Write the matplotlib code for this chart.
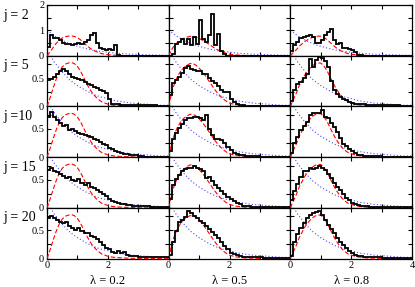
import numpy as np
import matplotlib
matplotlib.use("Agg")
import matplotlib.pyplot as plt

plt.rcParams['font.family'] = ['Liberation Serif', 'DejaVu Serif']

# columns / rows
lambdas = ['0.2', '0.5', '0.8']
j_labels = ['j = 2', 'j = 5', 'j =10', 'j = 15', 'j = 20']

# histogram bin edges (spacing s), width 0.1
bin_edges = np.round(np.arange(0, 4.001, 0.1), 2)

# histograms, one list per panel (40 bins, s = 0..4)
h_j2_l02 = [0.35, 0.8, 0.7, 0.68, 0.6, 0.52, 0.48, 0.45, 0.42, 0.45, 0.5, 0.45, 0.55, 0.62, 0.8, 0.88, 0.5, 0.3, 0.25, 0.22,
            0.25, 0.22, 0.42, 0.02, 0, 0, 0, 0, 0, 0, 0, 0, 0, 0, 0, 0, 0, 0, 0, 0]
h_j2_l05 = [0, 0.05, 0.45, 0.55, 0.64, 0.45, 0.67, 0.42, 0.74, 0.45, 1.4, 0.67, 0.55, 0.8, 1.64, 0.42, 0.84, 0.2, 0.05, 0,
            0, 0, 0, 0, 0, 0, 0, 0, 0, 0, 0, 0, 0, 0, 0, 0, 0, 0, 0, 0]
h_j2_l08 = [0.2, 0.42, 0.55, 0.68, 0.72, 0.78, 0.8, 0.74, 0.5, 0.5, 0.6, 0.8, 0.93, 1.06, 0.6, 0.45, 0.5, 0.32, 0.3, 0.28,
            0.22, 0.15, 0.04, 0.02, 0, 0, 0, 0, 0, 0, 0, 0, 0, 0, 0, 0, 0, 0, 0, 0]

h_j5_l02 = [0.47, 0.48, 0.52, 0.57, 0.62, 0.66, 0.62, 0.57, 0.53, 0.51, 0.49, 0.46, 0.43, 0.4, 0.38, 0.35, 0.33, 0.3, 0.28, 0.24,
            0.14, 0.05, 0.04, 0.04, 0.03, 0.03, 0.02, 0.02, 0.02, 0.02, 0.02, 0.02, 0.02, 0.02, 0.02, 0.02, 0.01, 0.01, 0.01, 0.01]
h_j5_l05 = [0.2, 0.42, 0.47, 0.53, 0.6, 0.69, 0.71, 0.66, 0.64, 0.62, 0.63, 0.58, 0.57, 0.5, 0.45, 0.42, 0.36, 0.3, 0.26, 0.26,
            0.14, 0.07, 0.04, 0.03, 0.02, 0.01, 0.01, 0.01, 0.01, 0.01, 0.01, 0.01, 0.01, 0.01, 0.01, 0.01, 0.01, 0.01, 0.01, 0.01]
h_j5_l08 = [0.1, 0.3, 0.4, 0.43, 0.5, 0.57, 0.84, 0.7, 0.82, 0.88, 0.86, 0.8, 0.7, 0.45, 0.3, 0.22, 0.17, 0.13, 0.11, 0.07,
            0.06, 0.05, 0.04, 0.04, 0.04, 0.03, 0.03, 0.03, 0.02, 0.02, 0.02, 0.02, 0.02, 0.02, 0.02, 0.02, 0.01, 0.01, 0.01, 0.01]

h_j10_l02 = [0.72, 0.8, 0.72, 0.66, 0.6, 0.56, 0.57, 0.48, 0.5, 0.47, 0.43, 0.41, 0.39, 0.37, 0.35, 0.33, 0.3, 0.27, 0.24, 0.21,
             0.17, 0.14, 0.11, 0.09, 0.07, 0.06, 0.05, 0.04, 0.03, 0.03, 0.02, 0.02, 0.01, 0.01, 0.01, 0.01, 0.01, 0.01, 0.01, 0.01]
h_j10_l05 = [0.1, 0.32, 0.42, 0.52, 0.59, 0.66, 0.69, 0.7, 0.71, 0.72, 0.7, 0.66, 0.74, 0.5, 0.39, 0.33, 0.32, 0.3, 0.25, 0.18,
             0.13, 0.08, 0.05, 0.04, 0.03, 0.02, 0.02, 0.02, 0.02, 0.02, 0.01, 0.01, 0.01, 0.01, 0.01, 0.01, 0.01, 0.01, 0.01, 0.01]
h_j10_l08 = [0.08, 0.25, 0.36, 0.48, 0.56, 0.63, 0.74, 0.78, 0.78, 0.78, 0.84, 0.72, 0.7, 0.6, 0.54, 0.45, 0.34, 0.24, 0.19, 0.15,
             0.11, 0.07, 0.04, 0.03, 0.02, 0.02, 0.02, 0.02, 0.02, 0.02, 0.01, 0.01, 0.01, 0.01, 0.01, 0.01, 0.01, 0.01, 0.01, 0.01]

h_j15_l02 = [0.67, 0.71, 0.65, 0.63, 0.6, 0.57, 0.53, 0.55, 0.5, 0.47, 0.51, 0.44, 0.41, 0.44, 0.37, 0.35, 0.31, 0.28, 0.25, 0.21,
             0.16, 0.12, 0.1, 0.08, 0.07, 0.06, 0.05, 0.05, 0.04, 0.04, 0.03, 0.03, 0.03, 0.03, 0.02, 0.02, 0.02, 0.02, 0.02, 0.02]
h_j15_l05 = [0.15, 0.4, 0.52, 0.59, 0.65, 0.69, 0.7, 0.71, 0.74, 0.71, 0.68, 0.66, 0.53, 0.55, 0.47, 0.41, 0.35, 0.29, 0.24, 0.2,
             0.15, 0.12, 0.08, 0.06, 0.04, 0.03, 0.03, 0.02, 0.02, 0.02, 0.01, 0.01, 0.01, 0.01, 0.01, 0.01, 0.01, 0.01, 0.01, 0.01]
h_j15_l08 = [0.14, 0.3, 0.42, 0.55, 0.66, 0.66, 0.71, 0.68, 0.71, 0.74, 0.71, 0.67, 0.6, 0.53, 0.44, 0.37, 0.32, 0.25, 0.18, 0.13,
             0.09, 0.07, 0.05, 0.04, 0.03, 0.03, 0.02, 0.02, 0.02, 0.01, 0.01, 0.01, 0.01, 0.01, 0.01, 0.01, 0.01, 0.01, 0.01, 0.01]

h_j20_l02 = [0.72, 0.75, 0.72, 0.68, 0.65, 0.63, 0.64, 0.58, 0.55, 0.51, 0.54, 0.48, 0.45, 0.46, 0.4, 0.38, 0.34, 0.3, 0.24, 0.18,
             0.16, 0.12, 0.1, 0.13, 0.09, 0.11, 0.06, 0.05, 0.04, 0.04, 0.03, 0.03, 0.02, 0.02, 0.02, 0.02, 0.02, 0.02, 0.02, 0.02]
h_j20_l05 = [0.06, 0.3, 0.48, 0.64, 0.69, 0.73, 0.84, 0.8, 0.76, 0.72, 0.67, 0.63, 0.57, 0.53, 0.47, 0.41, 0.36, 0.3, 0.23, 0.16,
             0.1, 0.08, 0.06, 0.04, 0.03, 0.03, 0.02, 0.02, 0.02, 0.02, 0.02, 0.01, 0.01, 0.01, 0.01, 0.01, 0.01, 0.01, 0.01, 0.01]
h_j20_l08 = [0.05, 0.3, 0.43, 0.54, 0.63, 0.72, 0.78, 0.8, 0.82, 0.84, 0.78, 0.69, 0.6, 0.52, 0.45, 0.37, 0.3, 0.24, 0.18, 0.13,
             0.09, 0.07, 0.05, 0.04, 0.03, 0.02, 0.02, 0.02, 0.02, 0.02, 0.01, 0.01, 0.01, 0.01, 0.01, 0.01, 0.01, 0.01, 0.01, 0.01]

hists = [[h_j2_l02, h_j2_l05, h_j2_l08],
         [h_j5_l02, h_j5_l05, h_j5_l08],
         [h_j10_l02, h_j10_l05, h_j10_l08],
         [h_j15_l02, h_j15_l05, h_j15_l08],
         [h_j20_l02, h_j20_l05, h_j20_l08]]

# red dashed fit curves (one per column)
red_s = [0, 0.1, 0.2, 0.3, 0.4, 0.5, 0.6, 0.7, 0.8, 0.9, 1.0, 1.1, 1.2, 1.3, 1.4, 1.5, 1.6, 1.7, 1.8, 1.9, 2.0, 2.2, 2.5, 3.0, 4.0]
red_l02 = [0, 0.15, 0.32, 0.48, 0.61, 0.7, 0.75, 0.77, 0.78, 0.76, 0.71, 0.63, 0.52, 0.41, 0.31, 0.23, 0.17, 0.12, 0.08, 0.06,
           0.04, 0.02, 0.01, 0, 0]
red_l05 = [0, 0.25, 0.42, 0.54, 0.63, 0.69, 0.73, 0.76, 0.76, 0.73, 0.68, 0.62, 0.55, 0.47, 0.39, 0.31, 0.24, 0.18, 0.13, 0.09,
           0.06, 0.03, 0.01, 0, 0]
red_l08 = [0, 0.12, 0.24, 0.38, 0.48, 0.58, 0.65, 0.71, 0.75, 0.77, 0.77, 0.72, 0.64, 0.53, 0.42, 0.32, 0.24, 0.17, 0.12, 0.08,
           0.06, 0.03, 0.01, 0, 0]
reds = [red_l02, red_l05, red_l08]

# blue dotted Poisson curve
blue_s = [0, 0.25, 0.5, 0.75, 1.0, 1.25, 1.5, 1.75, 2.0, 2.25, 2.5, 2.75, 3.0, 3.25, 3.5, 3.75, 4.0]
blue_p = [1.0, 0.78, 0.61, 0.47, 0.37, 0.29, 0.22, 0.17, 0.14, 0.1, 0.08, 0.06, 0.05, 0.04, 0.03, 0.02, 0.02]

fig, axes = plt.subplots(5, 3, figsize=(4.15, 2.87), dpi=100)
fig.subplots_adjust(left=47/415, right=412/415, top=1-5/287, bottom=1-258.5/287, hspace=0, wspace=0)

for r in range(5):
    for c in range(3):
        ax = axes[r, c]
        ax.plot(blue_s, blue_p, color='#4a4aff', ls=(0, (1, 2)), lw=0.8, zorder=2)
        ax.plot(red_s, reds[c], color='red', ls=(0, (4, 2)), lw=0.8, zorder=3)
        ax.stairs(hists[r][c], bin_edges, color='black', lw=1.3, baseline=None, zorder=4)
        ax.set_xlim(0, 4)
        ax.set_xticks([0, 1, 2, 3, 4])
        if r == 4:
            if c == 2:
                ax.set_xticklabels(['0', '', '2', '', '4'])
            else:
                ax.set_xticklabels(['0', '', '2', '', ''])
        else:
            ax.set_xticklabels([])
        if r == 0:
            ax.set_ylim(0, 2)
            ax.set_yticks([0, 0.5, 1, 1.5, 2])
            if c == 0:
                ax.set_yticklabels(['0', '', '1', '', '2'])
            else:
                ax.set_yticklabels([])
        else:
            ax.set_ylim(0, 0.9)
            ax.set_yticks([0, 0.25, 0.5, 0.75])
            if c == 0:
                ax.set_yticklabels(['0', '', '0.5', ''])
            else:
                ax.set_yticklabels([])
        ax.tick_params(direction='in', top=True, right=True, length=3, width=0.8,
                       labelsize=7.5, pad=2)
        for sp in ax.spines.values():
            sp.set_linewidth(0.9)

for r in range(5):
    fig.text(3/415, axes[r, 0].get_position().y1 - 10/287, j_labels[r],
             ha='left', va='center', fontsize=10)

for c in range(3):
    fig.text(axes[4, c].get_position().x0 + axes[4, c].get_position().width/2, 1-281/287,
             'λ = ' + lambdas[c], ha='center', va='center', fontsize=9)

fig.savefig('out.png', dpi=100)
